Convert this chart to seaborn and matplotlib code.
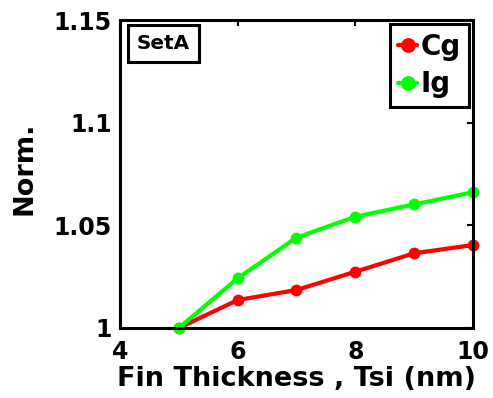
import matplotlib
matplotlib.use("Agg")
import matplotlib.pyplot as plt
import seaborn as sns
import pandas as pd

# Fin thickness sweep (nm) and normalized metrics
tsi = [5, 6, 7, 8, 9, 10]
cg_norm = [1.0, 1.0136, 1.0185, 1.0274, 1.0364, 1.0404]
ig_norm = [1.0, 1.0242, 1.0440, 1.0542, 1.0602, 1.0661]
series_names = ["Cg", "Ig"]
x_ticks = [4, 6, 8, 10]
y_ticks = [1.0, 1.05, 1.1, 1.15]
y_tick_labels = ["1", "1.05", "1.1", "1.15"]

df = pd.DataFrame({
    "Tsi": tsi * 2,
    "value": cg_norm + ig_norm,
    "series": [series_names[0]] * len(tsi) + [series_names[1]] * len(tsi),
})

sns.set_style("white")
plt.rcParams["font.family"] = ["DejaVu Sans"]
plt.rcParams["font.weight"] = "bold"
plt.rcParams["text.color"] = "black"
plt.rcParams["axes.labelcolor"] = "black"
plt.rcParams["xtick.color"] = "black"
plt.rcParams["ytick.color"] = "black"

fig = plt.figure(figsize=(4.93, 3.98), dpi=100)
ax = fig.add_axes([0.2434, 0.1759, 0.716, 0.7738])

sns.lineplot(data=df, x="Tsi", y="value", hue="series",
             palette={"Cg": "#ff0000", "Ig": "#00ff00"},
             marker="o", markersize=8.5, markeredgewidth=0, linewidth=3,
             ax=ax)
for ln in ax.lines:
    ln.set_clip_on(False)

ax.set_xlim(4, 10)
ax.set_ylim(1.0, 1.15)
ax.set_xticks(x_ticks)
ax.set_xticklabels([str(t) for t in x_ticks])
ax.set_yticks(y_ticks)
ax.set_yticklabels(y_tick_labels)
ax.tick_params(direction="in", length=4, width=1.5, top=True, right=True,
               labelsize=17, colors="black")
ax.tick_params(axis="x", pad=9)
ax.tick_params(axis="y", pad=6)
for lbl in ax.get_xticklabels() + ax.get_yticklabels():
    lbl.set_fontweight("bold")
for sp in ax.spines.values():
    sp.set_linewidth(2.2)
    sp.set_color("black")

ax.set_xlabel("Fin Thickness , Tsi (nm)", fontsize=19.5, fontweight="bold")
ax.set_ylabel("Norm.", fontsize=19.5, fontweight="bold")
ax.xaxis.set_label_coords(0.5, -0.125)
ax.yaxis.set_label_coords(-0.235, 0.52)

leg = ax.legend(loc="upper right", fontsize=20, handlelength=0.7,
                handletextpad=0.1, borderpad=0.3, labelspacing=0.35,
                frameon=True, fancybox=False, framealpha=1,
                borderaxespad=0.15, markerscale=1.25)
leg.get_frame().set_edgecolor("black")
leg.get_frame().set_linewidth(2.2)
for t in leg.get_texts():
    t.set_fontweight("bold")
    t.set_color("black")

ax.text(0.048, 0.955, "SetA", transform=ax.transAxes, fontsize=14.4,
        fontweight="bold", va="top", ha="left",
        bbox=dict(boxstyle="square,pad=0.45", fc="white", ec="black", lw=2.2))

fig.savefig("out.png", dpi=100)
